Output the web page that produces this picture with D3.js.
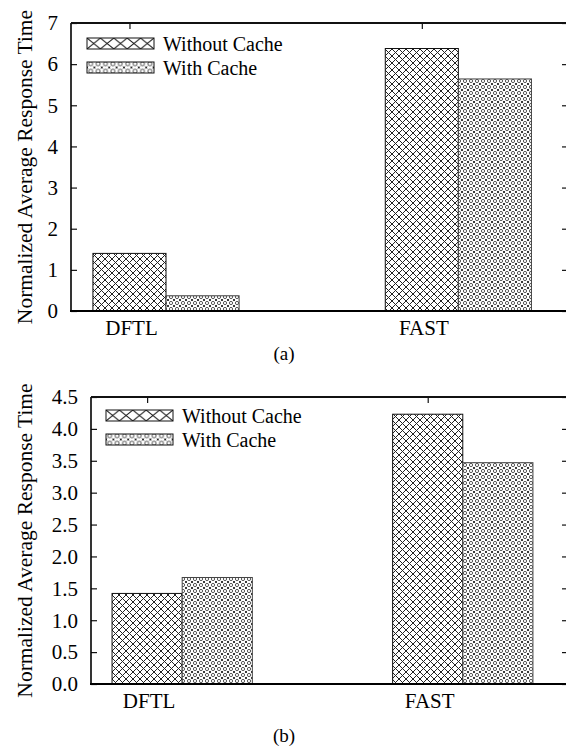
<!DOCTYPE html>
<html>
<head>
<meta charset="utf-8">
<script src="https://cdn.jsdelivr.net/npm/d3@7"></script>
<style>
  html, body { margin: 0; padding: 0; background: #fff; }
  svg { display: block; }
  svg text { font-family: "Liberation Serif", Tinos, "Times New Roman", Times, "Nimbus Roman", "DejaVu Serif", serif; fill: #000; }
</style>
</head>
<body>
<svg id="chart" width="566" height="748"></svg>
<script>
// Benchmarks (x categories) and the two configurations compared
const categories = ["DFTL", "FAST"];
const seriesNames = ["Without Cache", "With Cache"];

// Normalized average response time, panel (a)
const withoutCacheA = [1.40, 6.38];
const withCacheA = [0.37, 5.64];
const ticksA = [0, 1, 2, 3, 4, 5, 6, 7];

// Normalized average response time, panel (b)
const withoutCacheB = [1.42, 4.23];
const withCacheB = [1.67, 3.47];
const ticksB = [0, 0.5, 1.0, 1.5, 2.0, 2.5, 3.0, 3.5, 4.0, 4.5];

const FONT = '"Liberation Serif", Tinos, "Times New Roman", Times, "Nimbus Roman", "DejaVu Serif", serif';

const svg = d3.select("#chart");
const defs = svg.append("defs");

// Cross-hatch tile: w x h, lines corner to corner
function hatchPattern(id, w, h, x0, y0) {
  const p = defs.append("pattern")
    .attr("id", id).attr("patternUnits", "userSpaceOnUse")
    .attr("x", x0).attr("y", y0)
    .attr("width", w).attr("height", h);
  p.append("rect").attr("width", w).attr("height", h).attr("fill", "#fff");
  p.append("path")
    .attr("d", `M${-w / 7},${-h / 7}L${w * 8 / 7},${h * 8 / 7}M${-w / 7},${h * 8 / 7}L${w * 8 / 7},${-h / 7}`)
    .attr("stroke", "#222").attr("stroke-width", 1).attr("fill", "none");
}

// Ring-and-cross tile: small ring in the middle, tiny crosses at the corners
function dotPattern(id, s, x0, y0) {
  const p = defs.append("pattern")
    .attr("id", id).attr("patternUnits", "userSpaceOnUse")
    .attr("x", x0).attr("y", y0)
    .attr("width", s).attr("height", s);
  p.append("rect").attr("width", s).attr("height", s).attr("fill", "#fff");
  p.append("circle").attr("cx", s / 2).attr("cy", s / 2).attr("r", s * 0.27)
    .attr("fill", "none").attr("stroke", "#444").attr("stroke-width", 0.9);
  const k = s / 6;
  const cross = (cx, cy) => `M${cx - k},${cy - k}L${cx + k},${cy + k}M${cx - k},${cy + k}L${cx + k},${cy - k}`;
  p.append("path")
    .attr("d", [cross(0, 0), cross(s, 0), cross(0, s), cross(s, s)].join(""))
    .attr("stroke", "#222").attr("stroke-width", 0.9);
}

hatchPattern("hatch", 7, 7, 0, 0);
dotPattern("dots", 6, 0, 0);

const fills = ["url(#hatch)", "url(#dots)"];

function panel(cfg) {
  const g = svg.append("g").attr("font-family", FONT);
  const { left, right, top, bottom } = cfg;

  // Cluster i occupies [i, i + 0.5]; each bar is a quarter unit wide.
  const x = d3.scaleLinear().domain([-0.075, 1.625]).range([left, right]);
  const barW = 0.25;
  const y = d3.scaleLinear().domain([0, cfg.yMax]).range([bottom, top]);

  const data = [];
  categories.forEach((c, i) => {
    cfg.series.forEach((vals, s) => {
      data.push({ cat: c, i, s, v: vals[i] });
    });
  });

  g.selectAll("rect.bar").data(data).join("rect")
    .attr("class", "bar")
    .attr("x", d => x(d.i + d.s * barW))
    .attr("width", d => x(d.i + (d.s + 1) * barW) - x(d.i + d.s * barW))
    .attr("y", d => y(d.v))
    .attr("height", d => y(0) - y(d.v))
    .attr("fill", d => fills[d.s])
    .attr("stroke", d => d.s === 0 ? "#111" : "#444")
    .attr("stroke-width", 1);

  // Left and right y axes with inward ticks
  const yLeft = d3.axisRight(y).tickValues(cfg.ticks).tickSize(6).tickFormat("");
  g.append("g").attr("transform", `translate(${left},0)`).call(yLeft)
    .call(a => a.select(".domain").remove())
    .call(a => a.selectAll("line").attr("stroke", "#111").attr("stroke-width", 1.2));
  const yRight = d3.axisLeft(y).tickValues(cfg.ticks).tickSize(6).tickFormat("");
  g.append("g").attr("transform", `translate(${right},0)`).call(yRight)
    .call(a => a.select(".domain").remove())
    .call(a => a.selectAll("line").attr("stroke", "#111").attr("stroke-width", 1.2));

  // Tick labels on the left
  g.selectAll("text.ylab").data(cfg.ticks).join("text")
    .attr("class", "ylab")
    .attr("x", left - 13)
    .attr("y", d => y(d))
    .attr("dy", "0.35em")
    .attr("text-anchor", "end")
    .attr("font-size", 21)
    .text(cfg.tickFormat);

  // Category ticks along the top frame
  const catPos = categories.map((c, i) => i + barW / 2);
  g.append("g").attr("transform", `translate(0,${top})`)
    .call(d3.axisBottom(x).tickValues(catPos).tickSize(6).tickFormat(""))
    .call(a => a.select(".domain").remove())
    .call(a => a.selectAll("line").attr("stroke", "#111").attr("stroke-width", 1.2));

  // Category labels under the baseline
  g.selectAll("text.xlab").data(categories).join("text")
    .attr("class", "xlab")
    .attr("x", (d, i) => x(i + barW / 2) + 2)
    .attr("y", bottom + 24)
    .attr("text-anchor", "middle")
    .attr("font-size", 21)
    .text(d => d);

  // Frame: left, top, bottom, right
  g.append("line").attr("x1", left).attr("x2", left).attr("y1", top).attr("y2", bottom)
    .attr("stroke", "#000").attr("stroke-width", 1.6);
  g.append("line").attr("x1", left).attr("x2", right).attr("y1", top).attr("y2", top)
    .attr("stroke", "#111").attr("stroke-width", 1.8);
  g.append("line").attr("x1", left - 1).attr("x2", right).attr("y1", bottom).attr("y2", bottom)
    .attr("stroke", "#000").attr("stroke-width", 2.2);
  g.append("line").attr("x1", right).attr("x2", right).attr("y1", top).attr("y2", bottom)
    .attr("stroke", "#000").attr("stroke-width", 1.6);

  // Y axis title
  g.append("text")
    .attr("transform", `translate(${cfg.titleX},${(top + bottom) / 2}) rotate(-90)`)
    .attr("text-anchor", "middle")
    .attr("dy", "0.35em")
    .attr("font-size", 21.5)
    .text("Normalized Average Response Time");

  // Legend: swatches use a coarser version of each fill
  seriesNames.forEach((name, s) => {
    const ly = cfg.legendY + s * 24;
    const pid = `leg-${cfg.caption.replace(/[()]/g, "")}-${s}`;
    if (s === 0) hatchPattern(pid, 13.4, 11, cfg.legendX, ly);
    else dotPattern(pid, 7.4, cfg.legendX, ly - 1.9);
    g.append("rect")
      .attr("x", cfg.legendX).attr("y", ly)
      .attr("width", 67).attr("height", 11)
      .attr("fill", `url(#${pid})`).attr("stroke", "#111").attr("stroke-width", 1);
    g.append("text")
      .attr("x", cfg.legendX + 76).attr("y", ly + 5.5)
      .attr("dy", "0.35em")
      .attr("font-size", 20)
      .text(name);
  });

  // Panel caption
  g.append("text")
    .attr("x", cfg.captionX).attr("y", cfg.captionY)
    .attr("text-anchor", "middle")
    .attr("dy", "0.35em")
    .attr("font-size", 19)
    .text(cfg.caption);
}

panel({
  left: 71, right: 568, top: 23, bottom: 311,
  yMax: 7, ticks: ticksA, tickFormat: d3.format("d"),
  series: [withoutCacheA, withCacheA],
  legendX: 87, legendY: 38, titleX: 24,
  caption: "(a)", captionX: 284, captionY: 353
});

panel({
  left: 91, right: 568, top: 397, bottom: 684,
  yMax: 4.5, ticks: ticksB, tickFormat: d3.format(".1f"),
  series: [withoutCacheB, withCacheB],
  legendX: 106, legendY: 410, titleX: 24,
  caption: "(b)", captionX: 284, captionY: 735
});
</script>
</body>
</html>
